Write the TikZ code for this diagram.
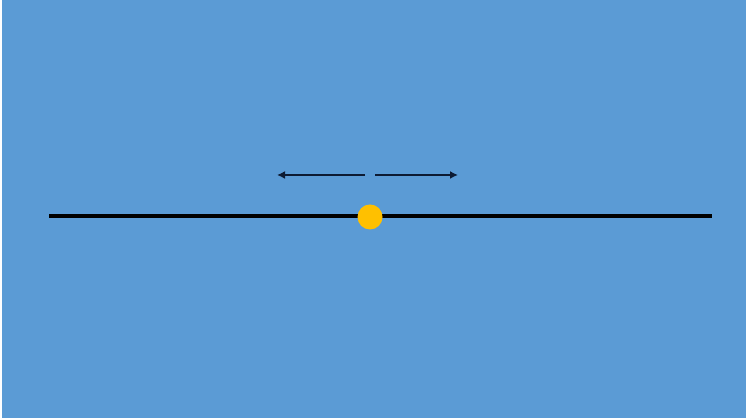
\documentclass[tikz,border=0pt]{standalone}
\usepackage{tikz}
\usetikzlibrary{positioning}
\usetikzlibrary{arrows.meta}
\definecolor{bgcol}{HTML}{5B9BD5}
\definecolor{ballcol}{HTML}{FFC000}
\definecolor{arrcol}{HTML}{0D1B33}
\tikzset{>=latex}
\tikzset{
  track/.style={line width=1.4pt, black},
  ball/.style={circle, fill=ballcol, draw=none, minimum size=0.25cm, inner sep=0pt},
  push/.style={->, line width=0.5pt, arrcol, >={Latex[length=0.8mm,width=0.8mm]}}
}

\begin{document}
\begin{tikzpicture}[scale=1]

% Page and background
\useasboundingbox (0,0) rectangle (7.46,4.20);
\fill[white] (0,0) rectangle (7.46,4.20);
\fill[bgcol] (0.02,0.02) rectangle (7.46,4.20);

% ---------- Track ----------
\coordinate (tl) at (0.49,2.04);
\coordinate (tr) at (7.12,2.04);
\draw[track] (tl) -- (tr);

% ---------- Ball ----------
\node[ball] (b) at (3.70,2.03) {};

% ---------- Arrows ----------
\coordinate (ls) at (3.65,2.45);
\coordinate (le) at (2.77,2.45);
\coordinate (rs) at (3.75,2.45);
\coordinate (re) at (4.58,2.45);
\draw[push] (ls) -- (le);
\draw[push] (rs) -- (re);

\end{tikzpicture}
\end{document}
